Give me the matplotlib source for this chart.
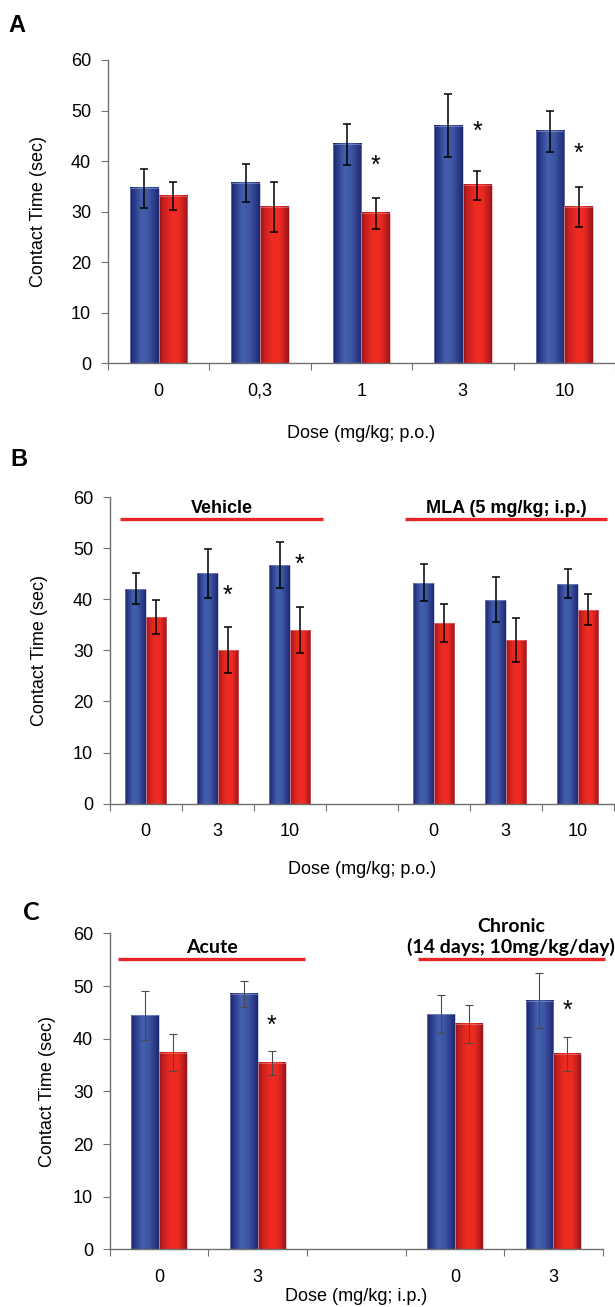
import numpy as np
import matplotlib
matplotlib.use("Agg")
import matplotlib.pyplot as plt
from matplotlib.colors import LinearSegmentedColormap

plt.rcParams['font.family'] = ['Liberation Sans', 'DejaVu Sans']

# ---- data ----
a_doses = ['0', '0,3', '1', '3', '10']
a_blue = [34.6, 35.7, 43.3, 47.0, 45.9]
a_blue_err = [3.9, 3.8, 4.0, 6.2, 4.1]
a_red = [33.1, 30.9, 29.7, 35.2, 30.9]
a_red_err = [2.8, 5.0, 3.1, 2.8, 4.0]
a_star = [None, None, 39.0, 45.7, 41.4]

b_doses = ['0', '3', '10', '0', '3', '10']
b_blue = [42.1, 45.1, 46.8, 43.3, 39.9, 43.1]
b_blue_err = [3.1, 4.8, 4.5, 3.7, 4.4, 2.8]
b_red = [36.5, 30.1, 34.0, 35.4, 32.0, 38.0]
b_red_err = [3.3, 4.5, 4.6, 3.7, 4.3, 3.0]
b_star = [None, 40.6, 46.8, None, None, None]
b_groups = ['Vehicle', 'MLA (5 mg/kg; i.p.)']

c_doses = ['0', '3', '0', '3']
c_blue = [44.4, 48.5, 44.6, 47.2]
c_blue_err = [4.6, 2.5, 3.6, 5.2]
c_red = [37.3, 35.4, 42.8, 37.1]
c_red_err = [3.5, 2.3, 3.6, 3.2]
c_star = [None, 42.5, None, 45.3]
c_groups = ['Acute', 'Chronic\n(14 days; 10mg/kg/day)']

# ---- styling ----
blue_cm = LinearSegmentedColormap.from_list('b', [
    (0.0, '#1b2266'), (0.15, '#2c3c8c'), (0.4, '#4460ac'),
    (0.65, '#3d55a2'), (0.88, '#2a3886'), (1.0, '#1d276e')])
red_cm = LinearSegmentedColormap.from_list('r', [
    (0.0, '#8e1418'), (0.15, '#c8201f'), (0.45, '#f02c22'),
    (0.7, '#ea2a21'), (0.9, '#b81c1e'), (1.0, '#951418')])
grad = np.linspace(0, 1, 64).reshape(1, -1)
BW = 0.283
RED_LINE = '#e8262a'
AX_COL = '#707070'


def draw_panel(ax, pos, labels, blue, blue_err, red, red_err, stars, nslots,
               err_kw, xlabel, xlab_y, ylab_x):
    pos = np.array(pos, dtype=float)
    bb = ax.bar(pos - BW / 2, blue, BW, facecolor='none', edgecolor='#9aa4d6',
                linewidth=0.4, zorder=2.2)
    rb = ax.bar(pos + BW / 2, red, BW, facecolor='none', edgecolor='#e88a8e',
                linewidth=0.4, zorder=2.2)
    for bars, cm in ((bb, blue_cm), (rb, red_cm)):
        for b in bars:
            x0, w, h = b.get_x(), b.get_width(), b.get_height()
            ax.imshow(grad, extent=(x0, x0 + w, 0, h), aspect='auto', cmap=cm,
                      interpolation='bicubic', zorder=2)
    ax.errorbar(pos - BW / 2, blue, yerr=blue_err, fmt='none', zorder=3, **err_kw)
    ax.errorbar(pos + BW / 2, red, yerr=red_err, fmt='none', zorder=3, **err_kw)
    for p, s in zip(pos, stars):
        if s is not None:
            ax.text(p + BW / 2, s, '*', ha='center', va='center', fontsize=18)

    ax.set_xlim(-0.5, nslots - 0.5)
    ax.set_ylim(0, 60)
    ax.set_yticks(range(0, 61, 10))
    ax.set_xticks(np.arange(nslots + 1) - 0.5)
    ax.set_xticklabels([])
    ax.set_xticks(pos, minor=True)
    ax.set_xticklabels(labels, minor=True)
    ax.tick_params(axis='x', which='major', length=5, color=AX_COL, direction='out')
    ax.tick_params(axis='x', which='minor', length=0, pad=14, labelsize=13)
    ax.tick_params(axis='y', length=5, color=AX_COL, pad=7, labelsize=13)
    for s in ('top', 'right'):
        ax.spines[s].set_visible(False)
    for s in ('left', 'bottom'):
        ax.spines[s].set_color(AX_COL)
        ax.spines[s].set_linewidth(1.0)
    ax.spines['bottom'].set_clip_on(False)
    ax.set_ylabel('Contact Time (sec)', fontsize=13)
    ax.yaxis.label.set_va('center')
    ax.yaxis.set_label_coords(ylab_x, 0.5)
    ax.set_xlabel(xlabel, fontsize=13)
    ax.xaxis.label.set_va('center')
    ax.xaxis.set_label_coords(0.5, xlab_y)


fig = plt.figure(figsize=(6.15, 13.07), dpi=100)

black_err = dict(ecolor='black', elinewidth=1.1, capsize=3, capthick=1.1)
gray_err = dict(ecolor='#4a4a4a', elinewidth=0.8, capsize=3, capthick=0.8)

# panel A
axA = fig.add_axes([0.1753, 0.7219, 0.8247, 0.2322])
draw_panel(axA, range(5), a_doses, a_blue, a_blue_err, a_red, a_red_err,
           a_star, 5, black_err, 'Dose (mg/kg; p.o.)', -0.2306, -0.1357)

# panel B
axB = fig.add_axes([0.1785, 0.3852, 0.8195, 0.2343])
draw_panel(axB, [0, 1, 2, 4, 5, 6], b_doses, b_blue, b_blue_err, b_red, b_red_err,
           b_star, 7, black_err, 'Dose (mg/kg; p.o.)', -0.217, -0.140)
for (x0, x1), name in zip([(-0.353, 2.457), (3.6, 6.406)], b_groups):
    axB.plot([x0, x1], [55.8, 55.8], color=RED_LINE, lw=2.4, clip_on=False,
             solid_capstyle='butt', zorder=4)
    axB.text((x0 + x1) / 2, 57.9, name, ha='center', va='center',
             fontsize=13, fontweight='bold')

# panel C
axC = fig.add_axes([0.1785, 0.0441, 0.8015, 0.2418])
draw_panel(axC, [0, 1, 3, 4], c_doses, c_blue, c_blue_err, c_red, c_red_err,
           c_star, 5, gray_err, 'Dose (mg/kg; i.p.)', -0.150, -0.127)
for (x0, x1), name, ty in zip([(-0.413, 1.485), (2.626, 4.519)], c_groups, [57.3, 59.3]):
    axC.plot([x0, x1], [55.1, 55.1], color=RED_LINE, lw=2.4, clip_on=False,
             solid_capstyle='butt', zorder=4)
    axC.text((x0 + x1) / 2, ty, name, ha='center', va='center', fontsize=14,
             fontweight='bold', family=['Lato', 'DejaVu Sans'], linespacing=1.15,
             clip_on=False)

fig.text(8 / 615, 1 - 25 / 1307, 'A', fontsize=17, fontweight='heavy', va='center')
fig.text(10 / 615, 1 - 460 / 1307, 'B', fontsize=17, fontweight='heavy', va='center')
fig.text(23 / 615, 1 - 912 / 1307, 'C', fontsize=18, fontweight='bold', va='center',
         family=['Lato', 'DejaVu Sans'])

fig.savefig('out.png', dpi=100)
